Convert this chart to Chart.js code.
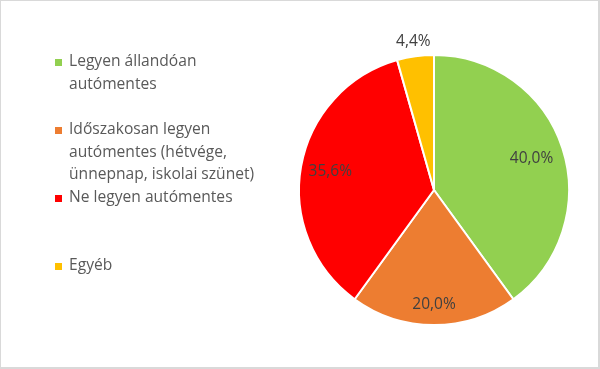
<!DOCTYPE html>
<html>
<head>
<meta charset="utf-8">
<script src="https://cdn.jsdelivr.net/npm/chart.js@4.4.1/dist/chart.umd.min.js"></script>
<style>
  html, body { margin: 0; padding: 0; background: #fff; }
  #wrap {
    position: relative;
    width: 600px; height: 369px;
    box-sizing: border-box;
    border: 2px solid #d9d9d9;
    border-left-width: 1px; border-top-width: 1px;
  }
  #wrap canvas { position: absolute; left: -1px; top: -1px; }
</style>
</head>
<body>
<div id="wrap"><canvas id="pie" width="600" height="369"></canvas></div>
<script>
// --- data ---
const labels = [
    ['Legyen állandóan', 'autómentes'],
    ['Időszakosan legyen', 'autómentes (hétvége,', 'ünnepnap, iskolai szünet)'],
    ['Ne legyen autómentes'],
    ['Egyéb']
];
const values = [40.0, 20.0, 35.6, 4.4];
const colors = ['#92d050', '#ed7d31', '#ff0000', '#ffc000'];

// where each value label sits, as a share of the radius
const labelRadius = [0.76, 0.85, 0.78, 1.11];

const fontFamily = '"Open Sans", "Noto Sans", sans-serif';

// legend on the left, drawn on the canvas
const sideLegend = {
    id: 'sideLegend',
    afterDraw(chart) {
        const ctx = chart.ctx;
        ctx.save();
        ctx.font = '15.6px ' + fontFamily;
        ctx.textBaseline = 'middle';
        chart.data.labels.forEach((lines, i) => {
            const y0 = 62 + i * 68;
            ctx.fillStyle = chart.data.datasets[0].backgroundColor[i];
            ctx.fillRect(55, y0 - 3, 7, 7);
            ctx.fillStyle = '#595959';
            lines.forEach((line, j) => {
                ctx.fillText(line, 69, y0 + j * 22.5);
            });
        });
        ctx.restore();
    }
};

// percent labels on the slices
const valueLabels = {
    id: 'valueLabels',
    afterDatasetsDraw(chart) {
        const ctx = chart.ctx;
        const meta = chart.getDatasetMeta(0);
        ctx.save();
        ctx.font = '15.5px ' + fontFamily;
        ctx.fillStyle = '#404040';
        ctx.textAlign = 'center';
        ctx.textBaseline = 'middle';
        meta.data.forEach((arc, i) => {
            const p = arc.getProps(['x', 'y', 'startAngle', 'endAngle', 'outerRadius'], true);
            const mid = (p.startAngle + p.endAngle) / 2;
            const r = p.outerRadius * labelRadius[i];
            const txt = chart.data.datasets[0].data[i].toFixed(1).replace('.', ',') + '%';
            ctx.fillText(txt, p.x + Math.cos(mid) * r, p.y + Math.sin(mid) * r);
        });
        ctx.restore();
    }
};

new Chart(document.getElementById('pie'), {
    type: 'pie',
    data: {
        labels: labels,
        datasets: [{
            data: values,
            backgroundColor: colors,
            borderColor: '#ffffff',
            borderWidth: 2
        }]
    },
    options: {
        responsive: false,
        animation: false,
        layout: { padding: { left: 298, right: 30, top: 54, bottom: 43 } },
        plugins: {
            legend: { display: false },
            tooltip: { enabled: false }
        }
    },
    plugins: [sideLegend, valueLabels]
});
</script>
</body>
</html>
